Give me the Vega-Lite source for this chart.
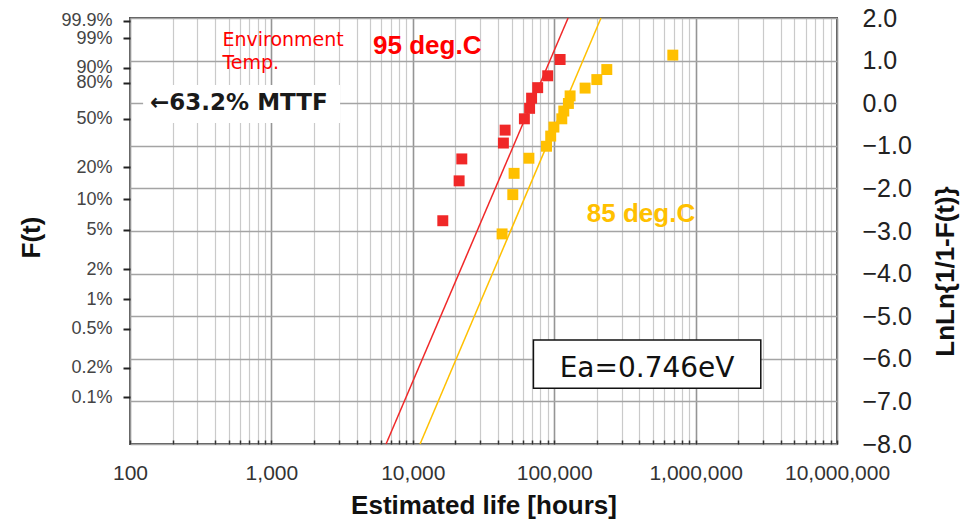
{
  "$schema": "https://vega.github.io/schema/vega-lite/v6.json",
  "width": 707,
  "height": 426,
  "autosize": {"type": "none"},
  "padding": {"left": 130, "top": 18, "right": 133, "bottom": 76},
  "background": "white",
  "config": {
    "view": {"stroke": "#555555", "strokeWidth": 2},
    "axis": {"domain": false}
  },
  "datasets": {
    "points": [
      {"series": "95 deg.C", "t": 16300, "v": -2.759},
      {"series": "95 deg.C", "t": 21260, "v": -1.823},
      {"series": "95 deg.C", "t": 22210, "v": -1.308},
      {"series": "95 deg.C", "t": 43720, "v": -0.9355},
      {"series": "95 deg.C", "t": 44960, "v": -0.632},
      {"series": "95 deg.C", "t": 61540, "v": -0.3665},
      {"series": "95 deg.C", "t": 66990, "v": -0.1209},
      {"series": "95 deg.C", "t": 69210, "v": 0.1178},
      {"series": "95 deg.C", "t": 76410, "v": 0.365},
      {"series": "95 deg.C", "t": 89950, "v": 0.6436},
      {"series": "95 deg.C", "t": 110100, "v": 1.0259},
      {"series": "85 deg.C", "t": 42800, "v": -3.068},
      {"series": "85 deg.C", "t": 50950, "v": -2.1456},
      {"series": "85 deg.C", "t": 52040, "v": -1.6466},
      {"series": "85 deg.C", "t": 66240, "v": -1.2917},
      {"series": "85 deg.C", "t": 88210, "v": -1.0103},
      {"series": "85 deg.C", "t": 94460, "v": -0.7718},
      {"series": "85 deg.C", "t": 99520, "v": -0.5602},
      {"series": "85 deg.C", "t": 113160, "v": -0.3665},
      {"series": "85 deg.C", "t": 116900, "v": -0.1837},
      {"series": "85 deg.C", "t": 126030, "v": -0.006},
      {"series": "85 deg.C", "t": 129560, "v": 0.1713},
      {"series": "85 deg.C", "t": 165400, "v": 0.3548},
      {"series": "85 deg.C", "t": 200200, "v": 0.5545},
      {"series": "85 deg.C", "t": 235500, "v": 0.7902},
      {"series": "85 deg.C", "t": 690000, "v": 1.1285}
    ],
    "fit": [
      {"series": "95 deg.C", "t": 6470, "v": -8},
      {"series": "95 deg.C", "t": 125400, "v": 2},
      {"series": "85 deg.C", "t": 11260, "v": -8},
      {"series": "85 deg.C", "t": 214300, "v": 2}
    ]
  },
  "encoding": {
    "x": {"field": "t", "type": "quantitative", "scale": {"type": "log", "domain": [100, 10000000], "nice": false},
      "axis": {
        "title": "Estimated life [hours]",
        "values": [100,200,300,400,500,600,700,800,900,1000,2000,3000,4000,5000,6000,7000,8000,9000,10000,20000,30000,40000,50000,60000,70000,80000,90000,100000,200000,300000,400000,500000,600000,700000,800000,900000,1000000,2000000,3000000,4000000,5000000,6000000,7000000,8000000,9000000,10000000],
        "labelExpr": "indexof([100,1000,10000,100000,1000000,10000000], datum.value) >= 0 ? format(datum.value, ',') : ''",
        "labelFlush": false,
        "labelOverlap": false,
        "labelBound": false,
        "grid": true,
        "gridColor": {"condition": {"test": "indexof([100,1000,10000,100000,1000000,10000000], datum.value) >= 0", "value": "#959595"}, "value": "#cacaca"},
        "gridWidth": {"condition": {"test": "indexof([100,1000,10000,100000,1000000,10000000], datum.value) >= 0", "value": 1.6}, "value": 1.2},
        "ticks": true,
        "tickSize": -4,
        "tickColor": "#333333",
        "tickWidth": 1.5,
        "labelFont": "Liberation Sans",
        "labelFontSize": 21,
        "labelColor": "#333333",
        "labelBaseline": "alphabetic",
        "labelPadding": 39,
        "titleFont": "Liberation Sans",
        "titleFontSize": 26,
        "titleFontWeight": "bold",
        "titleColor": "#111111",
        "titleBaseline": "alphabetic",
        "titleY": 69
      }
    }
  },
  "resolve": {"scale": {"y": "independent"}, "axis": {"y": "independent"}},
  "layer": [
    {
      "data": {"values": [{"t": 123.8, "t2": 3060, "v": 0.427, "v2": -0.465}]},
      "mark": {"type": "rect", "fill": "white", "stroke": null},
      "encoding": {
        "x2": {"field": "t2"},
        "y": {"field": "v", "type": "quantitative", "scale": {"domain": [-8, 2], "nice": false, "zero": false}, "axis": null},
        "y2": {"field": "v2"}
      }
    },
    {
      "data": {"values": [{"t": 71300, "t2": 2891000, "v": -5.559, "v2": -6.692}]},
      "mark": {"type": "rect", "fill": "white", "stroke": "#111111", "strokeWidth": 1.5},
      "encoding": {
        "x2": {"field": "t2"},
        "y": {"field": "v", "type": "quantitative", "scale": {"domain": [-8, 2], "nice": false, "zero": false}, "axis": null},
        "y2": {"field": "v2"}
      }
    },
    {
      "data": {"name": "fit"},
      "mark": {"type": "line", "strokeWidth": 1.5},
      "encoding": {
        "y": {"field": "v", "type": "quantitative", "scale": {"domain": [-8, 2], "nice": false, "zero": false},
          "axis": {
            "orient": "right",
            "title": "LnLn{1/1-F(t)}",
            "values": [-8, -7, -6, -5, -4, -3, -2, -1, 0, 1, 2],
            "format": ".1f",
            "grid": true,
            "gridColor": "#a4a4a4",
            "gridWidth": 1.6,
            "ticks": false,
            "labelFont": "Liberation Sans",
            "labelFontSize": 25,
            "labelColor": "#222222",
            "labelAlign": "left",
            "labelPadding": 25,
            "labelBound": false,
            "labelFlush": false,
            "labelOverlap": false,
            "titleFont": "Liberation Sans",
            "titleFontSize": 26,
            "titleFontWeight": "bold",
            "titleColor": "#111111",
            "titleAngle": 270,
            "titleAlign": "center",
            "titleBaseline": "middle",
            "titleX": 108,
            "titleY": 253
          }
        },
        "color": {"field": "series", "type": "nominal", "scale": {"domain": ["95 deg.C", "85 deg.C"], "range": ["#f02828", "#ffc000"]}, "legend": null}
      }
    },
    {
      "data": {"name": "points"},
      "mark": {"type": "point", "shape": "square", "filled": true, "size": 120, "opacity": 1},
      "encoding": {
        "y": {"field": "v", "type": "quantitative", "scale": {"domain": [-8, 2], "nice": false, "zero": false},
          "axis": {
            "orient": "left",
            "title": "F(t)",
            "values": [1.932645, 1.52718, 0.834032, 0.475885, -0.366513, -1.49994, -2.250367, -2.970195, -3.901939, -4.600149, -5.295812, -6.213607, -6.907255],
            "labelExpr": "format((1 - exp(-exp(datum.value))) * 100, '.1~f') + '%'",
            "grid": false,
            "ticks": true,
            "tickSize": 7,
            "tickWidth": 2,
            "tickColor": "#222222",
            "labelFont": "Liberation Sans",
            "labelFontSize": 18,
            "labelColor": "#444444",
            "labelPadding": 11,
            "labelBound": false,
            "labelFlush": false,
            "labelOverlap": false,
            "titleFont": "Liberation Sans",
            "titleFontSize": 26,
            "titleFontWeight": "bold",
            "titleColor": "#111111",
            "titleAngle": 270,
            "titleAlign": "center",
            "titleBaseline": "middle",
            "titleX": -99,
            "titleY": 219
          }
        },
        "color": {"field": "series", "type": "nominal", "scale": {"domain": ["95 deg.C", "85 deg.C"], "range": ["#ff0000", "#ffc000"]}, "legend": null}
      }
    },
    {
      "data": {"values": [{"label": "Environment\nTemp.", "t": 450.5, "v": 1.35}]},
      "mark": {"type": "text", "align": "left", "baseline": "alphabetic", "font": "DejaVu Sans", "fontSize": 19, "color": "#ff0000", "lineBreak": "\n", "lineHeight": 23},
      "encoding": {
        "y": {"field": "v", "type": "quantitative", "scale": {"domain": [-8, 2], "nice": false, "zero": false}, "axis": null},
        "text": {"field": "label"}
      }
    },
    {
      "data": {"values": [{"label": "95 deg.C", "t": 5236, "v": 1.155}]},
      "mark": {"type": "text", "align": "left", "baseline": "alphabetic", "font": "Liberation Sans", "fontSize": 26, "fontWeight": "bold", "color": "#ff0000"},
      "encoding": {
        "y": {"field": "v", "type": "quantitative", "scale": {"domain": [-8, 2], "nice": false, "zero": false}, "axis": null},
        "text": {"field": "label"}
      }
    },
    {
      "data": {"values": [{"label": "85 deg.C", "t": 170100, "v": -2.789}]},
      "mark": {"type": "text", "align": "left", "baseline": "alphabetic", "font": "Liberation Sans", "fontSize": 26, "fontWeight": "bold", "color": "#ffc000"},
      "encoding": {
        "y": {"field": "v", "type": "quantitative", "scale": {"domain": [-8, 2], "nice": false, "zero": false}, "axis": null},
        "text": {"field": "label"}
      }
    },
    {
      "data": {"values": [{"label": "←63.2% MTTF", "t": 138.7, "v": -0.1596}]},
      "mark": {"type": "text", "align": "left", "baseline": "alphabetic", "font": "DejaVu Sans", "fontSize": 23, "fontWeight": "bold", "color": "#1a1a1a"},
      "encoding": {
        "y": {"field": "v", "type": "quantitative", "scale": {"domain": [-8, 2], "nice": false, "zero": false}, "axis": null},
        "text": {"field": "label"}
      }
    },
    {
      "data": {"values": [{"label": "Ea=0.746eV", "t": 453700, "v": -6.42}]},
      "mark": {"type": "text", "align": "center", "baseline": "alphabetic", "font": "DejaVu Sans", "fontSize": 28, "color": "#111111"},
      "encoding": {
        "y": {"field": "v", "type": "quantitative", "scale": {"domain": [-8, 2], "nice": false, "zero": false}, "axis": null},
        "text": {"field": "label"}
      }
    }
  ]
}
